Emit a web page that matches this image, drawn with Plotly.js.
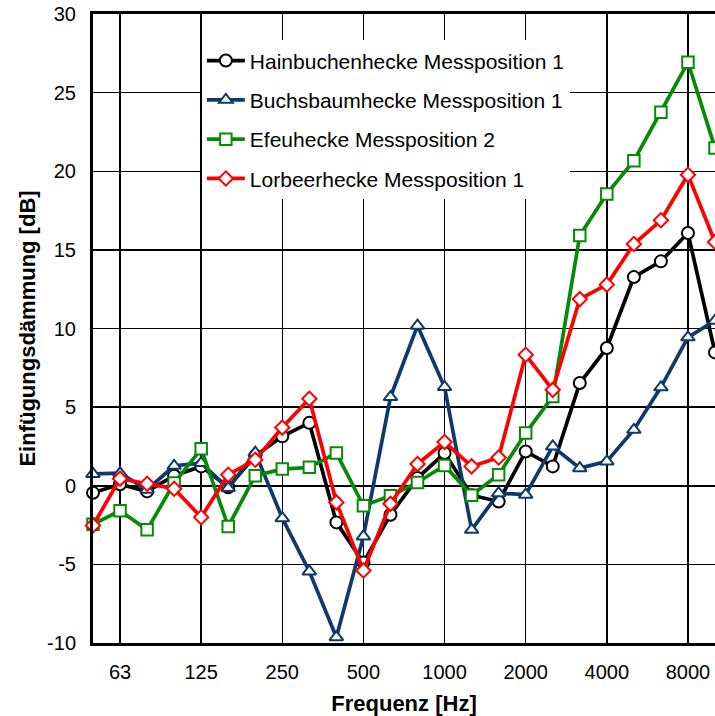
<!DOCTYPE html>
<html>
<head>
<meta charset="utf-8">
<script src="https://cdn.plot.ly/plotly-3.0.1.min.js"></script>
<style>html,body{margin:0;padding:0;overflow:hidden;background:#fff}</style>
</head>
<body>
<div id="chart" style="width:715px;height:716px"></div>
<script>
var frequencies = ["50","63","80","100","125","160","200","250","315","400","500","630","800","1000","1250","1600","2000","2500","3150","4000","5000","6300","8000","10000"];
var xTickLabels = ["63","125","250","500","1000","2000","4000","8000"];
var yTickValues = [-10, -5, 0, 5, 10, 15, 20, 25, 30];
var yTickLabels = ["-10", "-5", "0", "5", "10", "15", "20", "25", "30"];

var hainbuche = [-0.45, 0.1, -0.36, 0.64, 1.23, -0.1, 1.9, 3.14, 4.0, -2.33, -4.88, -1.84, 0.49, 2.08, -0.6, -1.0, 2.18, 1.23, 6.53, 8.76, 13.27, 14.27, 16.07, 8.48];
var buchsbaum = [0.75, 0.8, -0.25, 1.27, 1.44, -0.15, 2.1, -2.06, -5.45, -9.63, -3.22, 5.64, 10.18, 6.28, -2.8, -0.47, -0.57, 2.5, 1.12, 1.55, 3.56, 6.26, 9.44, 10.5];
var efeu = [-2.45, -1.59, -2.8, 0.17, 2.35, -2.59, 0.64, 1.06, 1.17, 2.08, -1.27, -0.64, 0.21, 1.29, -0.6, 0.7, 3.35, 5.68, 15.92, 18.56, 20.67, 23.75, 26.93, 21.48];
var lorbeer = [-2.52, 0.45, 0.13, -0.19, -2.0, 0.7, 1.65, 3.7, 5.53, -1.06, -5.39, -1.15, 1.38, 2.78, 1.23, 1.8, 8.33, 6.1, 11.87, 12.79, 15.37, 16.88, 19.78, 15.5];

var seriesNames = ["Hainbuchenhecke Messposition 1", "Buchsbaumhecke Messposition 1", "Efeuhecke Messposition 2", "Lorbeerhecke Messposition 1"];
var seriesValues = [hainbuche, buchsbaum, efeu, lorbeer];
var seriesColors = ["#000000", "#0E3A6B", "#078A07", "#FF0000"];
var seriesSymbols = ["circle", "triangle-up", "square", "diamond"];
var markerSizes = [12, 12, 11.5, 11];

var traces = seriesValues.map(function(vals, k) {
  return {
    x: frequencies,
    y: vals,
    name: seriesNames[k],
    legendgroup: "g" + k,
    type: "scatter",
    mode: "lines+markers",
    cliponaxis: false,
    line: {color: seriesColors[k], width: 3.7},
    marker: {
      symbol: seriesSymbols[k],
      size: markerSizes[k],
      color: "#ffffff",
      line: {color: seriesColors[k], width: 2}
    }
  };
});

var font = "Liberation Sans, Arial, sans-serif";
var layout = {
  width: 715,
  height: 716,
  margin: {l: 93, r: 0, t: 14, b: 73},
  paper_bgcolor: "#ffffff",
  plot_bgcolor: "#ffffff",
  font: {family: font, size: 20, color: "#000"},
  showlegend: true,
  legend: {
    x: 0.175, y: 0.958, xanchor: "left", yanchor: "top",
    bgcolor: "#ffffff", borderwidth: 0,
    font: {family: font, size: 21, color: "#000"},
    tracegroupgap: 9,
    itemwidth: 38
  },
  shapes: [{
    type: "rect", xref: "paper", yref: "paper",
    x0: 0.172, x1: 0.815, y0: 0.709, y1: 0.954,
    fillcolor: "#ffffff", line: {width: 0}, layer: "between"
  }],
  xaxis: {
    type: "category",
    range: [0, 23],
    tickmode: "array",
    tickvals: xTickLabels,
    ticktext: xTickLabels,
    ticks: "",
    showgrid: true, gridcolor: "#000", gridwidth: 1.5,
    showline: true, linecolor: "#000", linewidth: 3, mirror: true,
    zeroline: false,
    tickfont: {family: font, size: 20, color: "#000"},
    ticklabelstandoff: 9,
    title: {text: "Frequenz [Hz]", font: {family: font, size: 22, color: "#000", weight: "bold"}, standoff: 17}
  },
  yaxis: {
    range: [-10, 30],
    tickmode: "array",
    tickvals: yTickValues,
    ticktext: yTickLabels,
    ticks: "",
    showgrid: true, gridcolor: "#000", gridwidth: 1.5,
    showline: true, linecolor: "#000", linewidth: 3,
    zeroline: false,
    tickfont: {family: font, size: 20, color: "#000"},
    ticklabelstandoff: 10,
    title: {text: "Einfügungsdämmung [dB]", font: {family: font, size: 22, color: "#000", weight: "bold"}, standoff: 6}
  }
};

Plotly.newPlot("chart", traces, layout, {displayModeBar: false, staticPlot: true});
</script>
</body>
</html>
